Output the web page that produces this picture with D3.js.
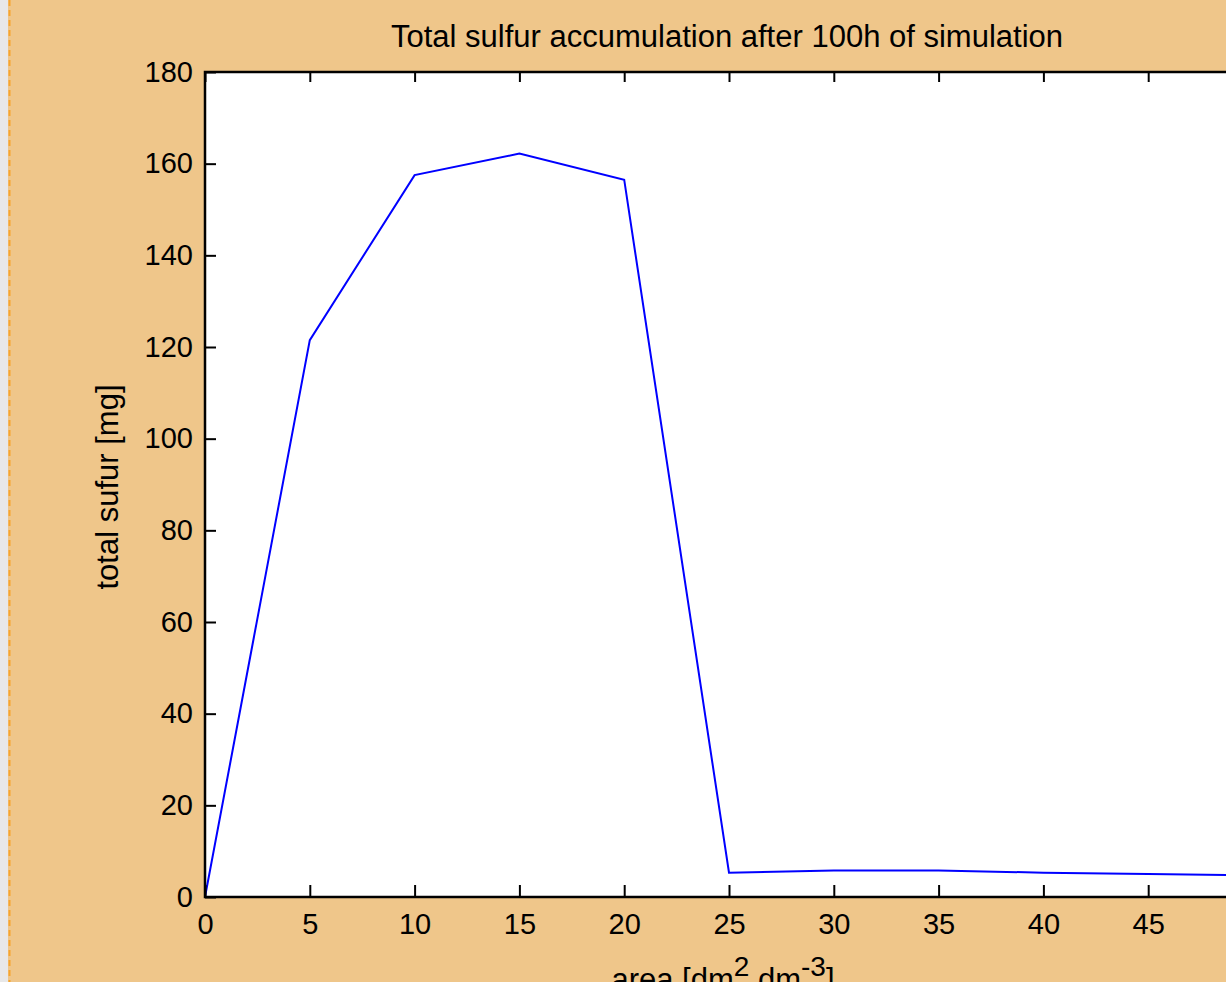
<!DOCTYPE html>
<html>
<head>
<meta charset="utf-8">
<script src="https://cdn.jsdelivr.net/npm/d3@7"></script>
<style>
  html, body { margin: 0; padding: 0; overflow: hidden; background: #efc68a; }
  svg { display: block; font-family: "Liberation Sans", Arial, sans-serif; }
</style>
</head>
<body>
<div id="chart"></div>
<script>
// simulated area vs. total sulfur
const area = [0, 5, 10, 15, 20, 25, 30, 35, 40, 45, 50];
const sulfur = [0, 121.5, 157.5, 162.2, 156.5, 5.3, 5.8, 5.8, 5.3, 5.0, 4.7];
const xTicks = [0, 5, 10, 15, 20, 25, 30, 35, 40, 45];
const yTicks = [0, 20, 40, 60, 80, 100, 120, 140, 160, 180];

const width = 1226;
const height = 982;
const margin = { top: 72, left: 205, bottom: 85 };
const plotRight = 1253; // the axes run past the window edge

const svg = d3.select('#chart')
  .append('svg')
  .attr('width', width)
  .attr('height', height);

svg.append('rect')
  .attr('width', width).attr('height', height)
  .attr('fill', '#efc68a');

// grey strip and dashed border on the left
svg.append('rect')
  .attr('width', 8).attr('height', height)
  .attr('fill', '#e8e8e8');
svg.append('line')
  .attr('x1', 9.5).attr('x2', 9.5)
  .attr('y1', 0).attr('y2', height)
  .attr('stroke', '#f7a42c')
  .attr('stroke-width', 2)
  .attr('stroke-dasharray', '6,4');

const x = d3.scaleLinear().domain([0, 50]).range([margin.left, plotRight]);
const y = d3.scaleLinear().domain([0, 180]).range([height - margin.bottom, margin.top]);

svg.append('rect')
  .attr('x', x(0)).attr('y', y(180))
  .attr('width', x(50) - x(0))
  .attr('height', y(0) - y(180))
  .attr('fill', '#fff');

const line = d3.line()
  .x((d, i) => x(area[i]))
  .y((d) => y(d));

svg.append('path')
  .datum(sulfur)
  .attr('fill', 'none')
  .attr('stroke', '#0000ff')
  .attr('stroke-width', 2)
  .attr('d', line);

const styleAxis = (g) => {
  g.select('.domain').remove();
  g.selectAll('.tick line').attr('stroke', '#000').attr('stroke-width', 2);
  g.selectAll('.tick text')
    .attr('fill', '#000')
    .style('font-size', '29px')
    .style('font-family', '"Liberation Sans", Arial, sans-serif');
};

svg.append('g')
  .attr('transform', `translate(0,${y(0)})`)
  .call(d3.axisBottom(x).tickValues(xTicks).tickSize(-12).tickPadding(16))
  .call(styleAxis);

svg.append('g')
  .attr('transform', `translate(0,${y(180)})`)
  .call(d3.axisTop(x).tickValues(xTicks).tickSize(-10).tickFormat(''))
  .call(styleAxis);

svg.append('g')
  .attr('transform', `translate(${x(0)},0)`)
  .call(d3.axisLeft(y).tickValues(yTicks).tickSize(-11).tickPadding(12))
  .call(styleAxis);

// frame
svg.append('path')
  .attr('d', `M${plotRight + 5},${y(180)}H${x(0)}V${y(0)}H${plotRight + 5}`)
  .attr('fill', 'none')
  .attr('stroke', '#000')
  .attr('stroke-width', 2.5);

svg.append('text')
  .attr('x', 727)
  .attr('y', 47)
  .attr('text-anchor', 'middle')
  .style('font-size', '31px')
  .text('Total sulfur accumulation after 100h of simulation');

svg.append('text')
  .attr('transform', `translate(118,487) rotate(-90)`)
  .attr('text-anchor', 'middle')
  .style('font-size', '31px')
  .text('total sufur [mg]');

const xl = svg.append('text')
  .attr('x', 723)
  .attr('y', 990)
  .attr('text-anchor', 'middle')
  .style('font-size', '31px');
xl.append('tspan').text('area [dm');
xl.append('tspan').attr('dy', -14).style('font-size', '28px').text('2');
xl.append('tspan').attr('dy', 14).text(' dm');
xl.append('tspan').attr('dy', -14).style('font-size', '28px').text('-3');
xl.append('tspan').attr('dy', 14).text(']');
</script>
</body>
</html>
